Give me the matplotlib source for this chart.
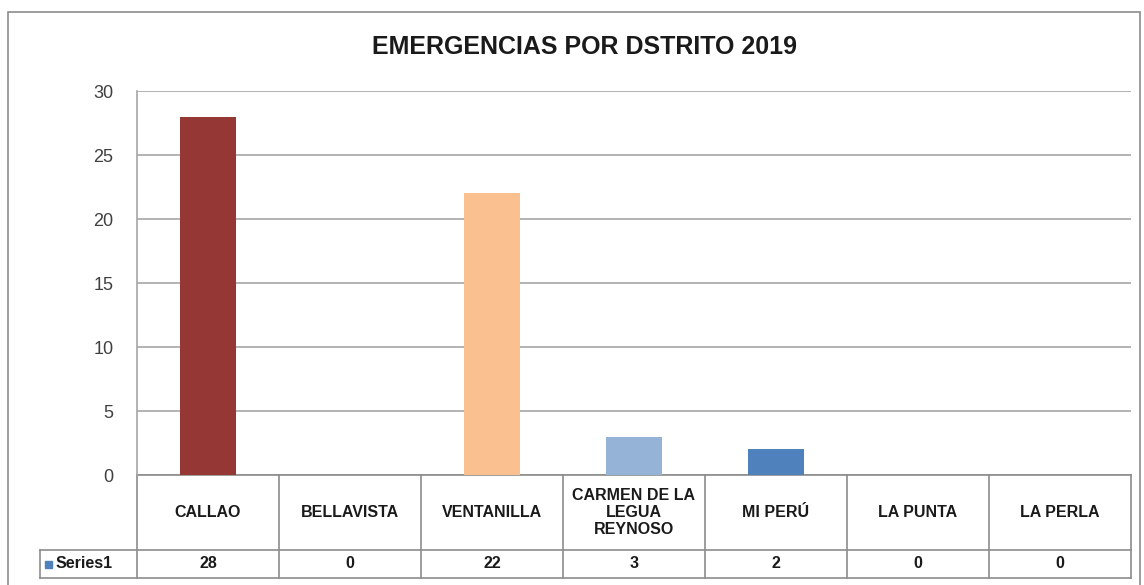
import matplotlib.pyplot as plt
from matplotlib.patches import Rectangle
from matplotlib.transforms import blended_transform_factory

districts = ["CALLAO", "BELLAVISTA", "VENTANILLA", "CARMEN DE LA\nLEGUA\nREYNOSO",
             "MI PERÚ", "LA PUNTA", "LA PERLA"]
emergencies = [28, 0, 22, 3, 2, 0, 0]
bar_colors = ["#953735", "#4F81BD", "#FAC090", "#95B3D7", "#4F81BD", "#4F81BD", "#4F81BD"]
y_ticks = [0, 5, 10, 15, 20, 25, 30]
series_name = "Series1"

plt.rcParams["font.family"] = ["Liberation Sans", "DejaVu Sans"]

W, H = 1144, 585
fig = plt.figure(figsize=(W / 100, H / 100), dpi=100)

# chart frame
fig.patches.append(Rectangle((8 / W, -0.1), 1132 / W, 1 - 12 / H + 0.1,
                             transform=fig.transFigure, fill=False,
                             edgecolor="#8c8c8c", linewidth=1.2))

ax = fig.add_axes([137 / W, 1 - 475 / H, 994 / W, 384 / H])
x = range(len(districts))
ax.bar(x, emergencies, width=0.4, color=bar_colors, zorder=3)

ax.set_xlim(-0.5, len(districts) - 0.5)
ax.set_ylim(0, 30)
ax.set_yticks(y_ticks)
ax.set_xticks([])
ax.grid(axis="y", color="#a6a6a6", linewidth=1.2, zorder=0)
for side in ["top", "right", "bottom"]:
    ax.spines[side].set_visible(False)
ax.spines["left"].set_color("#a6a6a6")
ax.spines["left"].set_linewidth(1.2)
ax.tick_params(axis="y", length=0, pad=17, labelsize=13, labelcolor="#404040")

fig.text(585 / W, 1 - 47 / H, "EMERGENCIAS POR DSTRITO 2019", ha="center",
         va="center", fontsize=18, fontweight="bold", color="#1a1a1a")

# data table under the axis
tr = blended_transform_factory(ax.transData, ax.transAxes)
row1 = -75 / 384
row2 = -103 / 384
lbl_left = -0.5 - 97 / 142
line_kw = dict(color="#8c8c8c", linewidth=1.2, transform=tr, clip_on=False)
n = len(districts)
ax.plot([-0.5, n - 0.5], [0, 0], **line_kw)
ax.plot([lbl_left, n - 0.5], [row1, row1], **line_kw)
ax.plot([lbl_left, n - 0.5], [row2, row2], **line_kw)
ax.plot([lbl_left, lbl_left], [row1, row2], **line_kw)
for i in range(n + 1):
    ax.plot([i - 0.5, i - 0.5], [0, row2], **line_kw)

for i, (name, val) in enumerate(zip(districts, emergencies)):
    ax.text(i, row1 / 2, name, transform=tr, ha="center", va="center",
            fontsize=11.5, fontweight="bold", color="#1a1a1a", linespacing=1.2)
    ax.text(i, (row1 + row2) / 2, str(val), transform=tr, ha="center",
            va="center", fontsize=11.5, fontweight="bold", color="#1a1a1a")

ax.add_patch(Rectangle((lbl_left + 0.035, (row1 + row2) / 2 - 0.01), 0.05, 0.019,
                       transform=tr, clip_on=False, color="#4F81BD"))
ax.text(lbl_left + 0.11, (row1 + row2) / 2, series_name, transform=tr,
        ha="left", va="center", fontsize=11.5, fontweight="bold", color="#1a1a1a")

fig.savefig("out.png", dpi=100)
